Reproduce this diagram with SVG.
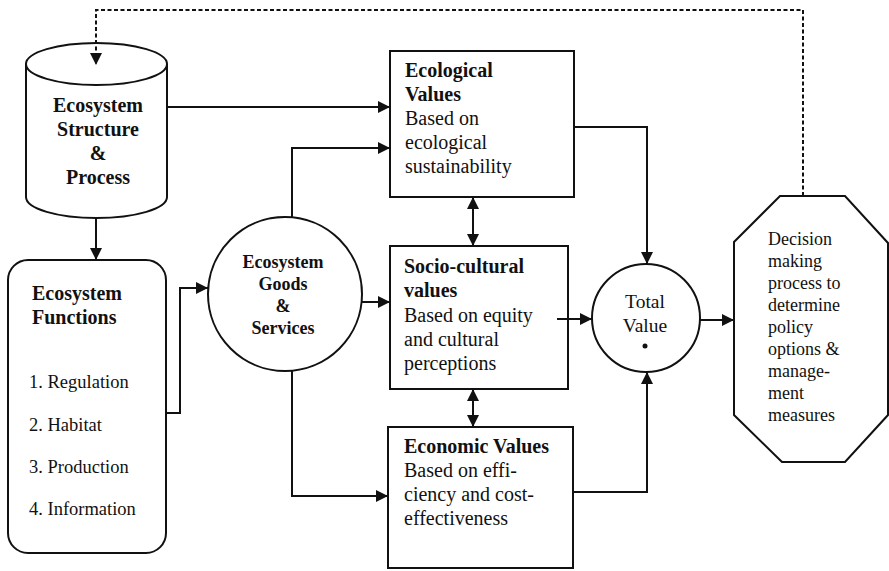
<svg xmlns="http://www.w3.org/2000/svg" width="889" height="571" viewBox="0 0 889 571">
<defs>
<marker id="ah" markerUnits="userSpaceOnUse" markerWidth="12" markerHeight="12" viewBox="0 0 12 12" refX="12" refY="6" orient="auto-start-reverse">
<path d="M0,0 L12,6 L0,12 Z" fill="#111"/>
</marker>
</defs>
<style>
.shape{fill:#fff;stroke:#111;stroke-width:2}
.conn{fill:none;stroke:#111;stroke-width:2}
.t{font-family:"Liberation Serif","Times New Roman",serif;fill:#111}
.b{font-weight:bold}
</style>
<rect width="889" height="571" fill="#fff"/>
<g id="cylinder">
<path class="shape" d="M26,64 V197 A70.5,21 0 0,0 167,197 V64"/>
<ellipse class="shape" cx="96.5" cy="64" rx="70.5" ry="21"/>
<text class="t b" font-size="20" text-anchor="middle"><tspan x="98" y="112">Ecosystem</tspan><tspan x="98" y="136">Structure</tspan><tspan x="98" y="160">&amp;</tspan><tspan x="98" y="184">Process</tspan></text>
</g>
<g id="functions">
<rect class="shape" x="8" y="260" width="158" height="293" rx="20"/>
<text class="t b" font-size="20"><tspan x="32" y="300">Ecosystem</tspan><tspan x="32" y="324">Functions</tspan></text>
<text class="t" font-size="18.5"><tspan x="29" y="388">1. Regulation</tspan><tspan x="29" y="431">2. Habitat</tspan><tspan x="29" y="473">3. Production</tspan><tspan x="29" y="515">4. Information</tspan></text>
</g>
<g id="goods">
<circle class="shape" cx="285" cy="294" r="77"/>
<text class="t b" font-size="18" text-anchor="middle"><tspan x="283" y="268">Ecosystem</tspan><tspan x="283" y="290">Goods</tspan><tspan x="283" y="312">&amp;</tspan><tspan x="283" y="334">Services</tspan></text>
</g>
<g id="ecological">
<rect class="shape" x="390" y="51" width="184" height="146"/>
<text class="t" font-size="20"><tspan class="b" x="405" y="77">Ecological</tspan><tspan class="b" x="405" y="101">Values</tspan><tspan x="405" y="125">Based on</tspan><tspan x="405" y="149">ecological</tspan><tspan x="405" y="173">sustainability</tspan></text>
</g>
<g id="sociocultural">
<rect class="shape" x="390" y="246" width="178" height="143"/>
<text class="t" font-size="20"><tspan class="b" x="404" y="273">Socio-cultural</tspan><tspan class="b" x="404" y="297">values</tspan><tspan x="404" y="322">Based on equity</tspan><tspan x="404" y="346">and cultural</tspan><tspan x="404" y="370">perceptions</tspan></text>
</g>
<g id="economic">
<rect class="shape" x="388" y="427" width="185" height="141"/>
<text class="t" font-size="20"><tspan class="b" x="404" y="453">Economic Values</tspan><tspan x="404" y="477">Based on effi-</tspan><tspan x="404" y="501">ciency and cost-</tspan><tspan x="404" y="525">effectiveness</tspan></text>
</g>
<g id="total">
<circle class="shape" cx="646" cy="318" r="54"/>
<text class="t" font-size="19.5" text-anchor="middle"><tspan x="645" y="308">Total</tspan><tspan x="645" y="332">Value</tspan></text>
<circle cx="645" cy="346" r="2.5" fill="#111"/>
</g>
<g id="decision">
<path class="shape" d="M780,196 H845 L888,243 V415 L845,462 H782 L734,415 V242 Z"/>
<text class="t" font-size="18"><tspan x="768" y="245">Decision</tspan><tspan x="768" y="267">making</tspan><tspan x="768" y="289">process to</tspan><tspan x="768" y="311">determine</tspan><tspan x="768" y="333">policy</tspan><tspan x="768" y="355">options &amp;</tspan><tspan x="768" y="377">manage-</tspan><tspan x="768" y="399">ment</tspan><tspan x="768" y="421">measures</tspan></text>
</g>
<g id="connectors">
<path class="conn" d="M803,196 V10 H96 V65" stroke-dasharray="4,2.5" marker-end="url(#ah)"/>
<path class="conn" d="M96,218 V260" marker-end="url(#ah)"/>
<path class="conn" d="M166,413 H180 V288 H208" marker-end="url(#ah)"/>
<path class="conn" d="M167,107 H390" marker-end="url(#ah)"/>
<path class="conn" d="M292,217 V148 H390" marker-end="url(#ah)"/>
<path class="conn" d="M362,302 H390" marker-end="url(#ah)"/>
<path class="conn" d="M292,371 V496 H388" marker-end="url(#ah)"/>
<path class="conn" d="M574,127 H647 V264" marker-end="url(#ah)"/>
<path class="conn" d="M557,319 H592" marker-end="url(#ah)"/>
<path class="conn" d="M573,492 H647 V372" marker-end="url(#ah)"/>
<path class="conn" d="M700,320 H734" stroke="#777" marker-end="url(#ah)"/>
<path class="conn" d="M473,197 V246" marker-start="url(#ah)" marker-end="url(#ah)"/>
<path class="conn" d="M473,389 V427" marker-start="url(#ah)" marker-end="url(#ah)"/>
</g>
</svg>
